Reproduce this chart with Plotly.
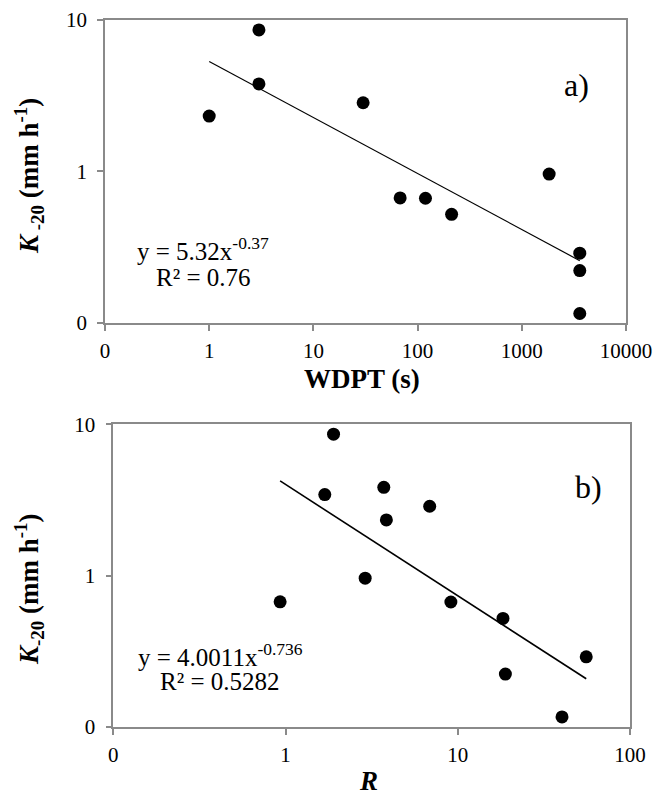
import plotly.graph_objects as go

# ---- Panel a) data ----
wdpt_s = [1, 3, 3, 30, 68, 119, 212, 1830, 3600, 3600, 3600]
k20_a = [2.32, 8.6, 3.78, 2.84, 0.667, 0.664, 0.52, 0.96, 0.288, 0.221, 0.115]
trend_a_x = [1, 3600]
trend_a_y = [5.32, 0.257]

# ---- Panel b) data ----
r_vals = [0.93, 1.90, 1.69, 3.72, 3.85, 6.87, 2.90, 9.12, 18.3, 18.9, 40.3, 55.7]
k20_b = [0.67, 8.6, 3.43, 3.83, 2.33, 2.87, 0.96, 0.668, 0.52, 0.223, 0.116, 0.29]
trend_b_x = [0.93, 55.7]
trend_b_y = [4.22, 0.2076]

# tick labels
xa_tickvals = [0.1, 1, 10, 100, 1000, 10000]
xa_ticktext = ["0", "1", "10", "100", "1000", "10000"]
xb_tickvals = [0.1, 1, 10, 100]
xb_ticktext = ["0", "1", "10", "100"]
y_tickvals = [0.1, 1, 10]
y_ticktext = ["0", "1", "10"]

W, H = 667, 803
FONT = "Liberation Serif, Times New Roman, serif"
AX = "#8a8a8a"

def px_x(p):
    return p / W

def px_y(p):
    return 1 - p / H

fig = go.Figure()

fig.add_trace(go.Scatter(x=trend_a_x, y=trend_a_y, mode="lines",
                         line=dict(color="black", width=1.2),
                         xaxis="x", yaxis="y", showlegend=False))
fig.add_trace(go.Scatter(x=wdpt_s, y=k20_a, mode="markers",
                         marker=dict(color="black", size=13),
                         xaxis="x", yaxis="y", showlegend=False))
fig.add_trace(go.Scatter(x=trend_b_x, y=trend_b_y, mode="lines",
                         line=dict(color="black", width=1.6),
                         xaxis="x2", yaxis="y2", showlegend=False))
fig.add_trace(go.Scatter(x=r_vals, y=k20_b, mode="markers",
                         marker=dict(color="black", size=13),
                         xaxis="x2", yaxis="y2", showlegend=False))

axis_common = dict(type="log", showgrid=False, zeroline=False, automargin=False,
                   showline=True, linecolor=AX, linewidth=1.6, mirror=True,
                   ticks="outside", ticklen=6, tickcolor=AX, tickwidth=1.6,
                   tickfont=dict(family=FONT, size=21, color="black"))

fig.update_layout(
    template="none",
    width=W, height=H,
    margin=dict(l=0, r=0, t=0, b=0, pad=0),
    paper_bgcolor="white", plot_bgcolor="white",
    font=dict(family=FONT, color="black"),
    showlegend=False,
    xaxis=dict(axis_common, domain=[px_x(105), px_x(626)], range=[-1, 4],
               tickvals=xa_tickvals, ticktext=xa_ticktext, anchor="y",
               ticklabelstandoff=2),
    yaxis=dict(axis_common, domain=[px_y(322.7), px_y(20)], range=[-1, 1],
               tickvals=y_tickvals, ticktext=y_ticktext, anchor="x",
               ticklabelstandoff=6),
    xaxis2=dict(axis_common, domain=[px_x(113.3), px_x(630)], range=[-1, 2],
                tickvals=xb_tickvals, ticktext=xb_ticktext, anchor="y2",
                ticklabelstandoff=2),
    yaxis2=dict(axis_common, domain=[px_y(726.7), px_y(424.3)], range=[-1, 1],
                tickvals=y_tickvals, ticktext=y_ticktext, anchor="x2",
                ticklabelstandoff=6),
)

def ann(text, x, y, size, angle=0):
    fig.add_annotation(text=text, x=px_x(x), y=px_y(y), xref="paper", yref="paper",
                       showarrow=False, xanchor="center", yanchor="middle",
                       textangle=angle,
                       font=dict(family=FONT, size=size, color="black"))

# axis titles
ann("<b>WDPT (s)</b>", 362, 379, 27)
ann("<b><i>R</i></b>", 368, 781, 27)
ann("<b><i>K</i><sub> -20</sub> (mm h<sup>-1</sup>)</b>", 29, 176, 27, -90)
ann("<b><i>K</i><sub>-20</sub> (mm h<sup>-1</sup>)</b>", 29, 590, 27, -90)

# equations
ann("y = 5.32x<sup>-0.37</sup>", 203, 249, 25)
ann("R² = 0.76", 203, 277, 25)
ann("y = 4.0011x<sup>-0.736</sup>", 220, 655, 25)
ann("R² = 0.5282", 219.5, 681, 25)

# panel labels
ann("a)", 576, 85, 32)
ann("b)", 588, 487, 32)

fig.write_html("out.html",
               config={"displayModeBar": False},
               post_script="document.body.style.margin='0';document.body.style.padding='0';")
